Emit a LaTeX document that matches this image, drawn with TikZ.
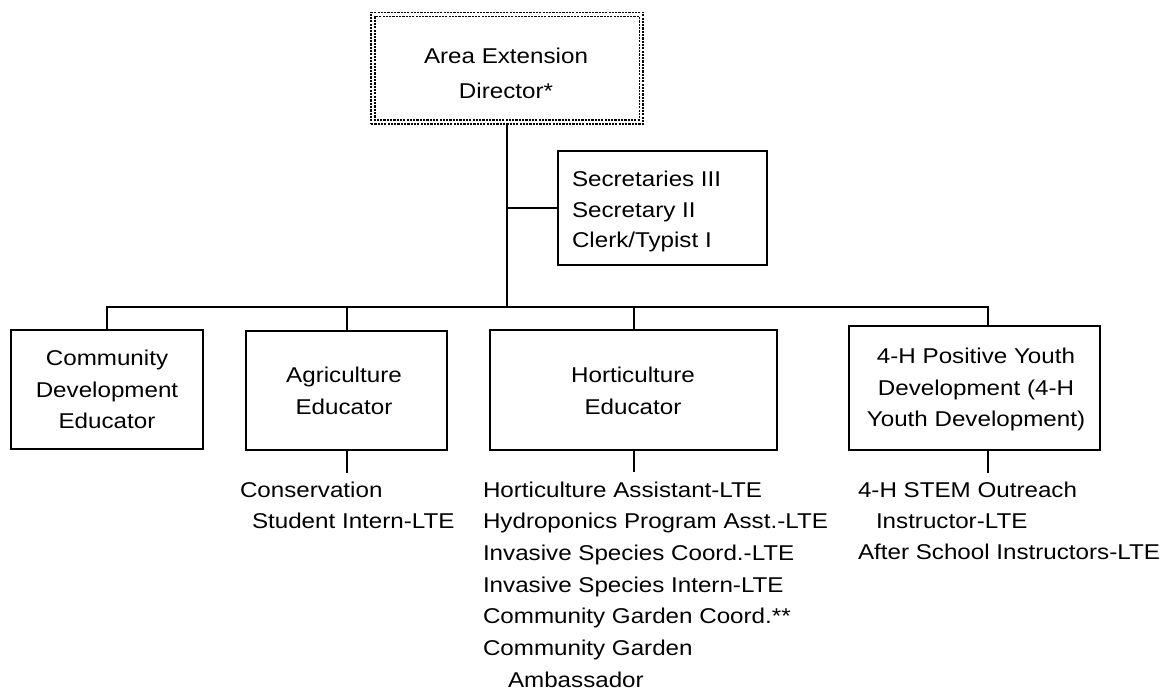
\documentclass[tikz,border=0pt]{standalone}
\usepackage{fontspec}
\setmainfont[FakeStretch=1.13]{Liberation Sans}
\newcommand{\mylines}[3]{{\fontsize{21.4}{#2}\selectfont\begin{tabular}[t]{@{}#1@{}}#3\end{tabular}}}
\begin{document}
\begin{tikzpicture}[x=1pt,y=-1pt,
  box/.style={draw=black,line width=2pt,rectangle,inner sep=0pt},
  dotbox/.style={draw=black,line width=1.2pt,dash pattern=on 2.2pt off 1.1pt,rectangle,inner sep=0pt},
  conn/.style={draw=black,line width=2pt},
  lbl/.style={inner sep=0pt,outer sep=0pt,text=black}]
\useasboundingbox (0,0) rectangle (1170,692);

% boxes
\node[dotbox,minimum width=272pt,minimum height=111.5pt] (top) at (507,68.25) {};
\draw[dotbox] ([xshift=4.5pt,yshift=-4.5pt]top.north west) rectangle ([xshift=-4.5pt,yshift=4.5pt]top.south east);
\node[box,minimum width=209pt,minimum height=114pt] (sec) at (662.5,208) {};
\node[box,minimum width=192pt,minimum height=119pt] (comm) at (107,389.5) {};
\node[box,minimum width=201pt,minimum height=119pt] (agri) at (346.5,390.5) {};
\node[box,minimum width=287pt,minimum height=120pt] (hort) at (633.5,390) {};
\node[box,minimum width=251pt,minimum height=124pt] (yth) at (974.5,388) {};

% box texts
\node[lbl,anchor=base] (toptxt) at (506,64) {\mylines{c}{35}{Area Extension\\Director*}};
\node[lbl,anchor=base west] (sectxt) at (572,187) {\mylines{l}{30.5}{Secretaries III\\Secretary II\\Clerk/Typist I}};
\node[lbl,anchor=base] (commtxt) at (107,366) {\mylines{c}{31.5}{Community\\Development\\Educator}};
\node[lbl,anchor=base] (agritxt) at (344,383) {\mylines{c}{31.5}{Agriculture\\Educator}};
\node[lbl,anchor=base] (horttxt) at (633,383) {\mylines{c}{31.5}{Horticulture\\Educator}};
\node[lbl,anchor=base] (ythtxt) at (976,364) {\mylines{c}{31.5}{4-H Positive Youth\\Development (4-H\\Youth Development)}};

% sub lists
\node[lbl,anchor=base west] (agrisub) at (240,497) {\mylines{l}{31.5}{Conservation\\\hspace*{12pt}Student Intern-LTE}};
\node[lbl,anchor=base west] (hortsub) at (483,497) {\mylines{l}{31.7}{Horticulture Assistant-LTE\\Hydroponics Program Asst.-LTE\\Invasive Species Coord.-LTE\\Invasive Species Intern-LTE\\Community Garden Coord.**\\Community Garden\\\hspace*{25pt}Ambassador}};
\node[lbl,anchor=base west] (ythsub) at (858,497) {\mylines{l}{31}{4-H STEM Outreach\\\hspace*{18pt}Instructor-LTE\\After School Instructors-LTE}};

% connectors
\coordinate (bus) at (507,307.5);
\coordinate (busL) at (107,307.5);
\coordinate (busR) at (988,307.5);
\coordinate (agriend) at (346.5,473);
\coordinate (hortend) at (633.5,472);
\coordinate (ythend) at (988,473);
\draw[conn] (top.south) -- (bus);
\draw[conn] (sec.west) -- (sec.west -| top.south);
\draw[conn] (comm.north) -- (busL) -- (busR) -- (busR |- yth.north);
\draw[conn] (agri.north) -- (agri.north |- bus);
\draw[conn] (hort.north) -- (hort.north |- bus);
\draw[conn] (agri.south) -- (agriend);
\draw[conn] (hort.south) -- (hortend);
\draw[conn] (ythend |- yth.south) -- (ythend);
\end{tikzpicture}
\end{document}
